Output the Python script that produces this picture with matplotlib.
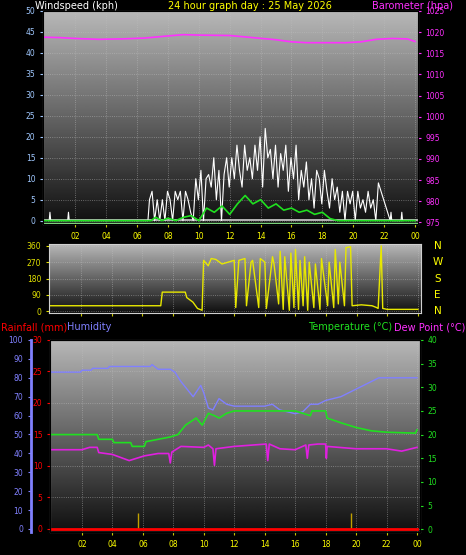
import numpy as np
import matplotlib.pyplot as plt

# ---- data (hours of day) ----
gust_hours = [0.3, 0.35, 0.4, 1.5, 1.55, 1.6, 6.7] + [6.8 + i / 6 for i in range(90)] + [22.4, 22.45, 22.5, 23.1, 23.15, 23.2]
gust_kph = [0, 2, 0, 0, 2, 0, 0] + [
    5, 7, 0, 5, 0, 5,
    0, 7, 5, 0, 7, 5,
    7, 0, 7, 5, 2, 0,
    10, 5, 12, 0, 10, 11,
    8, 15, 5, 12, 0, 11,
    15, 8, 15, 10, 18, 12,
    8, 18, 12, 15, 10, 18,
    12, 20, 8, 22, 15, 17,
    10, 18, 8, 16, 12, 18,
    7, 15, 10, 18, 5, 12,
    8, 14, 5, 10, 3, 12,
    10, 4, 12, 7, 3, 10,
    5, 8, 2, 7, 0, 7,
    4, 7, 0, 7, 3, 5,
    2, 7, 3, 5, 0, 9] + [0, 2, 0, 0, 2, 0]
avg_hours = [0, 6.9, 7.2, 7.6, 8.0, 8.5, 9.0, 9.5, 10.0, 10.5, 11.0, 11.5, 12.0, 12.5, 13.0,
             13.5, 14.0, 14.5, 15.0, 15.5, 16.0, 16.5, 17.0, 17.5, 18.0, 18.5, 19.0, 24]
avg_kph = [0, 0, 0.8, 0, 0.6, 0, 0.8, 1.2, 0, 3, 2, 3.5, 1.5, 4, 6,
           4, 5, 3, 4, 2.5, 3, 2, 2.5, 1.5, 2, 0.5, 0, 0]
baro_hours = [0, 1, 2, 3.5, 5, 6.5, 8, 9, 10, 12, 13.5, 15, 16, 17, 18, 19.5, 20.5, 21.5, 22.5, 23.5, 24]
baro_hpa = [1018.8, 1018.7, 1018.5, 1018.3, 1018.4, 1018.6, 1019.1, 1019.4, 1019.3, 1019.2, 1018.7,
            1018.2, 1017.7, 1017.5, 1017.5, 1017.5, 1017.7, 1018.3, 1018.5, 1018.4, 1017.8]

dir_hours = [0, 7.2, 7.3, 8.8, 8.9, 9.3, 9.6, 9.9, 10.0, 10.3, 10.5, 10.8, 11.2, 11.6, 12.0, 12.1, 12.3,
             12.7, 12.8, 13.1, 13.2, 13.6, 13.7, 14.0, 14.1, 14.5, 14.6, 14.9, 15.0, 15.2, 15.3, 15.6,
             15.7, 15.9, 16.0, 16.2, 16.3, 16.5, 16.6, 16.8, 16.9, 17.2, 17.3, 17.6, 17.7, 18.1, 18.2,
             18.5, 18.6, 18.8, 18.9, 19.2, 19.3, 19.6, 19.7, 20.3, 21.0, 21.3, 21.4, 21.6, 21.7, 22.0, 24]
dir_deg = [30, 30, 105, 105, 75, 50, 15, 5, 280, 250, 290, 285, 260, 270, 280, 20, 280,
           290, 30, 270, 280, 20, 290, 270, 15, 300, 260, 40, 330, 10, 300, 5, 320,
           20, 340, 10, 280, 30, 300, 5, 270, 20, 260, 10, 290, 30, 270,
           20, 340, 40, 270, 30, 350, 355, 30, 35, 30, 20, 15, 360, 15, 10, 10]

hum_hours = [0, 1.9, 2.0, 2.6, 2.7, 3.7, 3.8, 6.5, 6.6, 7.0, 7.8, 8.1, 8.5, 9.0, 9.3, 9.8, 10.0, 10.3,
             10.6, 11.0, 11.5, 12.0, 14.0, 14.5, 15.0, 16.0, 16.5, 17.0, 17.5, 18.0, 18.5, 19.0, 20.0,
             21.0, 21.5, 24]
hum_pct = [83, 83, 84, 84, 85, 85, 86, 86, 87, 84.5, 84.5, 83, 78, 73, 70, 76, 72, 64,
           63, 69, 66, 65, 65, 66, 63, 61, 62, 66, 66, 68, 69, 70, 74,
           78, 80, 80]
temp_hours = [0, 3.0, 3.1, 4.0, 4.1, 5.2, 5.3, 6.1, 6.2, 7.0, 7.8, 8.3, 8.8, 9.5, 9.9, 10.3, 10.7,
              11.0, 11.5, 12.0, 16.0, 16.5, 17.0, 17.1, 18.0, 18.1, 19.0, 20.0, 21.0, 22.0, 23.9, 24]
temp_c = [20, 20, 19, 19, 18.3, 18.3, 17.5, 17.5, 18.5, 19, 19.5, 20, 22, 23.5, 22, 24.5, 24,
          23.5, 24.5, 25, 25, 24.5, 24, 25, 25, 23.5, 22.5, 21.5, 20.8, 20.5, 20.3, 21]
dew_hours = [0, 2.0, 2.5, 3.0, 3.1, 4.0, 5.1, 6.1, 7.0, 7.7, 7.8, 7.9, 8.5, 10.0, 10.3, 10.6, 10.7,
             10.8, 12.0, 14.1, 14.2, 14.3, 15.0, 16.0, 16.7, 16.8, 16.9, 17.5, 18.0, 18.05, 18.1, 20.0,
             22.0, 23.0, 24]
dew_c = [16.8, 16.8, 17.3, 17.3, 16.2, 15.8, 14.5, 15.5, 16, 16, 14, 16.3, 17.5, 17.3, 17.8, 17, 13.5,
         17, 17.5, 18, 14.5, 18, 17, 16.8, 17.8, 15, 17.8, 18, 18, 15, 17.5, 17,
         17, 16.5, 17.3]
rain_hours = [0, 24]
rain_mm = [0, 0]
mark_hours = [5.7, 19.7]
mark_mm = [2.5, 2.5]

xticks = [2, 4, 6, 8, 10, 12, 14, 16, 18, 20, 22, 24]
xlabels = ['02', '04', '06', '08', '10', '12', '14', '16', '18', '20', '22', '00']

W, H = 466, 555
fig = plt.figure(figsize=(W / 100, H / 100), dpi=100, facecolor='black')


def panel(x0, y0, x1, y1, xlab=True):
    ax = fig.add_axes([x0 / W, 1 - y1 / H, (x1 - x0) / W, (y1 - y0) / H])
    grad = np.linspace(0.06, 0.72, 256).reshape(-1, 1)
    ax.imshow(grad, cmap='gray', vmin=0, vmax=1.0, aspect='auto', extent=[0, 1, 0, 1],
              transform=ax.transAxes, zorder=0, origin='lower')
    ax.set_facecolor('black')
    ax.set_xlim(-0.1, 24.2)
    ax.set_xticks(xticks)
    ax.set_xticklabels(xlabels if xlab else [])
    ax.tick_params(axis='x', colors='#c8c800', labelcolor='yellow', labelsize=5.5, length=2)
    ax.tick_params(axis='y', labelsize=5.5, length=2)
    ax.grid(True, color='#c0c0c0', linestyle=':', linewidth=0.6, alpha=0.6)
    for s in ax.spines.values():
        s.set_color('#d0d0d0')
    return ax


# ---- wind / barometer ----
ax1 = panel(43, 11, 418, 224)
ax1.set_ylim(-0.8, 50)
ax1.set_yticks(range(0, 51, 5))
ax1.tick_params(axis='y', colors='#a0c8ff')
ax1.axhline(0.2, color='#d0d0d0', lw=1.2, zorder=2)
ax1.plot(gust_hours, gust_kph, color='white', lw=0.8, zorder=3)
ax1.plot(avg_hours, avg_kph, color='#20e020', lw=1.2, zorder=4)
ax1.axhline(-0.5, color='#80e080', lw=1, zorder=2)
ax1b = ax1.twinx()
ax1b.set_ylim(974.6, 1025)
ax1b.set_yticks(range(975, 1026, 5))
ax1b.tick_params(axis='y', colors='#ff30ff', labelsize=5.5, length=2)
ax1b.plot(baro_hours, baro_hpa, color='#ff30ff', lw=1.2)
fig.text(35 / W, 1 - 1 / H, 'Windspeed (kph)', color='white', fontsize=7, va='top')
fig.text(250 / W, 1 - 1 / H, '24 hour graph day : 25 May 2026', color='yellow', fontsize=7,
         va='top', ha='center')
fig.text(372 / W, 1 - 1 / H, 'Barometer (hpa)', color='#ff30ff', fontsize=7, va='top')

# ---- wind direction ----
ax2 = panel(49, 244, 421, 313, xlab=False)
ax2.set_ylim(-10, 370)
ax2.set_yticks([0, 90, 180, 270, 360])
ax2.tick_params(axis='y', colors='#e0e000')
ax2.plot(dir_hours, dir_deg, color='#e8e800', lw=1)
for lab, v in zip(['N', 'W', 'S', 'E', 'N'], [360, 270, 180, 90, 0]):
    ax2.text(1.045, (v + 10) / 380, lab, transform=ax2.transAxes, color='yellow',
             fontsize=7.5, ha='center', va='center')

# ---- temperature / humidity / rain ----
ax3 = panel(50, 340, 420, 532)
ax3.set_ylim(-0.5, 30)
ax3.set_yticks(range(0, 31, 5))
ax3.tick_params(axis='y', colors='red')
ax3.plot(rain_hours, rain_mm, color='red', lw=2, zorder=5)
ax3.vlines(mark_hours, 0, mark_mm, color='#c0a000', lw=1, zorder=4)
axh = ax3.twinx()
axh.set_ylim(-1.6, 100)
axh.set_yticks(range(0, 101, 10))
axh.yaxis.set_ticks_position('left')
axh.spines['left'].set_position(('outward', 14))
axh.spines['left'].set_color('#8080ff')
axh.spines['left'].set_linewidth(2)
axh.tick_params(axis='y', colors='#8080ff', labelsize=5.5, length=2)
axh.plot(hum_hours, hum_pct, color='#8080ff', lw=1)
axt = ax3.twinx()
axt.set_ylim(-0.6, 40)
axt.set_yticks(range(0, 41, 5))
axt.tick_params(axis='y', colors='#20e020', labelsize=5.5, length=2)
axt.plot(temp_hours, temp_c, color='#20e020', lw=1.2)
axt.plot(dew_hours, dew_c, color='#e020e0', lw=1.2)
fig.text(1 / W, 1 - 327 / H, 'Rainfall (mm)', color='red', fontsize=7, va='center')
fig.text(67 / W, 1 - 327 / H, 'Humidity', color='#8080ff', fontsize=7, va='center')
fig.text(392 / W, 1 - 327 / H, 'Temperature (°C)', color='#20e020', fontsize=7, va='center', ha='right')
fig.text(465 / W, 1 - 327 / H, 'Dew Point (°C)', color='#ff30ff', fontsize=7, va='center', ha='right')

fig.savefig('out.png', dpi=100, facecolor='black')
